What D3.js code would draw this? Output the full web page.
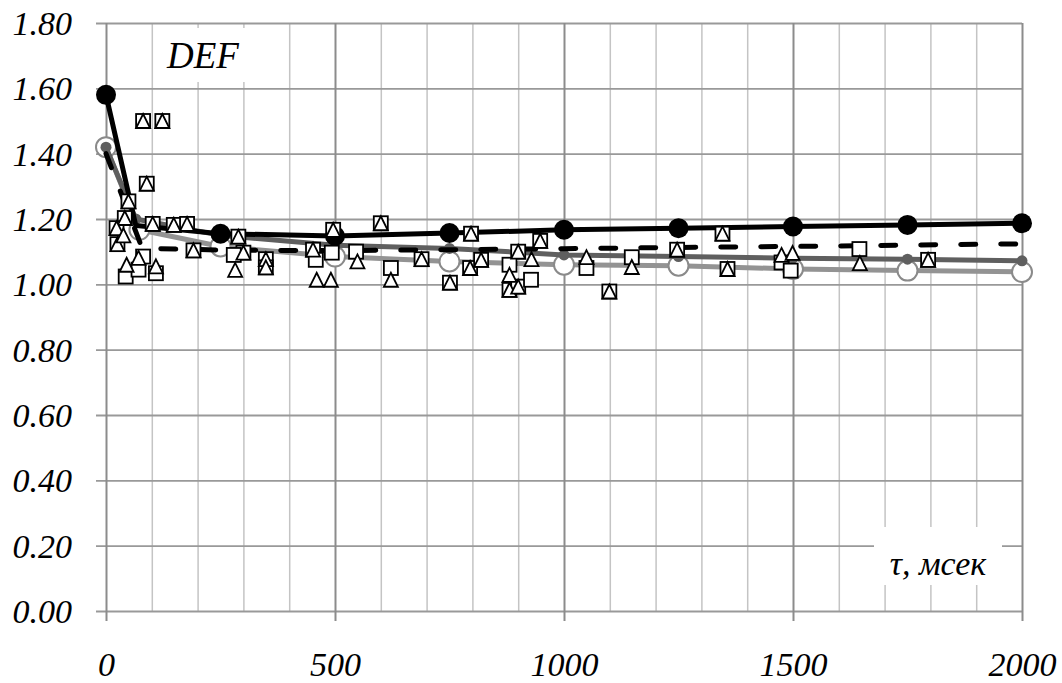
<!DOCTYPE html>
<html>
<head>
<meta charset="utf-8">
<script src="https://cdn.jsdelivr.net/npm/d3@7"></script>
</head>
<body style="margin:0; background:#fff">
<script>
// tick values
var xMajor = [0, 500, 1000, 1500, 2000];
var xMinor = d3.range(0, 2001, 100);
var yTicks = [0, 0.2, 0.4, 0.6, 0.8, 1.0, 1.2, 1.4, 1.6, 1.8];

// black line with filled circles
var tauBlack = [0, 65, 250, 500, 750, 1000, 1250, 1500, 1750, 2000];
var defBlack = [1.58, 1.18, 1.155, 1.148, 1.157, 1.167, 1.172, 1.177, 1.182, 1.187];

// dark grey line with small dots
var tauDark = [0, 65, 250, 500, 750, 1000, 1250, 1500, 1750, 2000];
var defDark = [1.42, 1.20, 1.15, 1.12, 1.11, 1.09, 1.085, 1.08, 1.077, 1.072];

// light grey line with open circles
var tauLight = [0, 73, 250, 500, 750, 1000, 1250, 1500, 1750, 2000];
var defLight = [1.42, 1.167, 1.116, 1.085, 1.07, 1.06, 1.057, 1.047, 1.042, 1.038];

// dashed black line
var tauDash = [0, 79, 250, 500, 750, 1000, 1250, 1500, 1750, 2000];
var defDash = [1.40, 1.11, 1.105, 1.103, 1.106, 1.109, 1.113, 1.116, 1.12, 1.124];

// measured points: squares
var sqTau = [81, 123, 89, 49, 41, 23, 25, 102, 148, 177, 191, 289, 300, 349, 349, 452, 496, 600, 689, 751,
             797, 795, 819, 881, 900, 900, 948, 1099, 1247, 1346, 1357, 1795,
             43, 71, 81, 109, 279, 458, 493, 546, 622, 881, 928, 1049, 1148, 1475, 1495, 1645];
var sqDef = [1.50, 1.50, 1.308, 1.254, 1.203, 1.172, 1.123, 1.185, 1.182, 1.185, 1.104, 1.146, 1.097, 1.077, 1.052, 1.106, 1.167, 1.187, 1.077, 1.005,
             1.155, 1.05, 1.075, 0.983, 1.10, 0.993, 1.133, 0.978, 1.106, 1.155, 1.047, 1.075,
             1.024, 1.045, 1.085, 1.034, 1.09, 1.075, 1.097, 1.10, 1.05, 1.06, 1.014, 1.05, 1.083, 1.067, 1.042, 1.108];

// measured points: triangles
var trTau = [81, 123, 89, 49, 41, 23, 25, 102, 148, 177, 191, 289, 300, 349, 349, 452, 496, 600, 689, 751,
             797, 795, 819, 881, 900, 900, 948, 1099, 1247, 1346, 1357, 1795,
             38, 45, 71, 109, 282, 460, 491, 549, 622, 881, 929, 1049, 1148, 1475, 1499, 1646];
var trDef = [1.50, 1.50, 1.308, 1.254, 1.203, 1.172, 1.123, 1.185, 1.182, 1.185, 1.104, 1.146, 1.097, 1.077, 1.052, 1.106, 1.167, 1.187, 1.077, 1.005,
             1.155, 1.05, 1.075, 0.983, 1.10, 0.993, 1.133, 0.978, 1.106, 1.155, 1.047, 1.075,
             1.15, 1.06, 1.081, 1.055, 1.044, 1.014, 1.014, 1.07, 1.014, 1.029, 1.077, 1.083, 1.053, 1.09, 1.096, 1.065];

var W = 1062, H = 683;
var plot = {left: 106, right: 1022, top: 23, bottom: 611};

var x = d3.scaleLinear().domain([0, 2000]).range([plot.left, plot.right]);
var y = d3.scaleLinear().domain([0, 1.8]).range([plot.bottom, plot.top]);

var svg = d3.select("body").append("svg")
    .attr("width", W)
    .attr("height", H);

// italic serif text, the way the original labels look
function serifText(sel, size) {
  sel.style("font-family", "'Liberation Serif'")
     .style("font-style", "italic")
     .style("font-size", size + "px")
     .attr("fill", "#000");
}

function plainAxis(g) {
  g.select(".domain").remove();
  g.attr("font-family", null).attr("font-size", null);
}

// minor vertical gridlines
svg.append("g")
    .attr("transform", "translate(0," + plot.top + ")")
    .call(d3.axisBottom(x).tickValues(xMinor.filter(function(d) { return d % 500 != 0; }))
        .tickSize(plot.bottom - plot.top).tickFormat(""))
    .call(plainAxis)
    .selectAll("line").attr("stroke", "#c4c4c4").attr("stroke-width", 1.5);

// horizontal gridlines + y labels
svg.append("g")
    .attr("transform", "translate(" + plot.right + ",0)")
    .call(d3.axisLeft(y).tickValues(yTicks)
        .tickSize(plot.right - plot.left + 10).tickPadding(24)
        .tickFormat(d3.format(".2f")))
    .call(plainAxis)
    .call(function(g) {
      g.selectAll("line").attr("stroke", "#999").attr("stroke-width", 1.8);
      g.selectAll("text").call(serifText, 34).attr("dy", "0.34em");
    });

// major vertical gridlines + x labels
svg.append("g")
    .attr("transform", "translate(0," + plot.top + ")")
    .call(d3.axisBottom(x).tickValues(xMajor)
        .tickSize(plot.bottom - plot.top + 10).tickPadding(31)
        .tickFormat(d3.format("d")))
    .call(plainAxis)
    .call(function(g) {
      g.selectAll("line").attr("stroke", "#8c8c8c").attr("stroke-width", 2);
      g.selectAll("text").call(serifText, 34);
    });

// label boxes
svg.append("rect").attr("x", 158).attr("y", 28).attr("width", 104).attr("height", 54).attr("fill", "#fff");
svg.append("text").attr("x", 167).attr("y", 68).call(serifText, 37).text("DEF");

svg.append("rect").attr("x", 874).attr("y", 527).attr("width", 128).attr("height", 58).attr("fill", "#fff");
svg.append("text").attr("x", 938).attr("y", 575).call(serifText, 34)
    .attr("text-anchor", "middle").text("τ, мсек");

function pts(t, v) { return t.map(function(d, i) { return [d, v[i]]; }); }

var line = d3.line()
    .x(function(d) { return x(d[0]); })
    .y(function(d) { return y(d[1]); });

// light grey series
var light = pts(tauLight, defLight);
svg.append("path").datum(light)
    .attr("fill", "none").attr("stroke", "#939393").attr("stroke-width", 5)
    .attr("d", line);
svg.selectAll(".lightdot").data(light).enter().append("circle")
    .attr("class", "lightdot")
    .attr("cx", function(d) { return x(d[0]); })
    .attr("cy", function(d) { return y(d[1]); })
    .attr("r", 10)
    .attr("fill", "#fff").attr("stroke", "#8a8a8a").attr("stroke-width", 2);

// dark grey series
var dark = pts(tauDark, defDark);
svg.append("path").datum(dark)
    .attr("fill", "none").attr("stroke", "#5f5f5f").attr("stroke-width", 5)
    .attr("d", line);
svg.selectAll(".darkdot").data(dark).enter().append("circle")
    .attr("class", "darkdot")
    .attr("cx", function(d) { return x(d[0]); })
    .attr("cy", function(d) { return y(d[1]); })
    .attr("r", 5.5)
    .attr("fill", "#5f5f5f");

// dashed series
svg.append("path").datum(pts(tauDash, defDash))
    .attr("fill", "none").attr("stroke", "#000").attr("stroke-width", 5)
    .attr("stroke-dasharray", "15,25").attr("stroke-linecap", "round")
    .attr("d", line);

// black series
var black = pts(tauBlack, defBlack);
svg.append("path").datum(black)
    .attr("fill", "none").attr("stroke", "#000").attr("stroke-width", 5)
    .attr("d", line);
svg.selectAll(".blackdot").data(black.filter(function(d) { return d[0] % 250 == 0; }))
    .enter().append("circle")
    .attr("class", "blackdot")
    .attr("cx", function(d) { return x(d[0]); })
    .attr("cy", function(d) { return y(d[1]); })
    .attr("r", 10)
    .attr("fill", "#000");

// scatter: squares then triangles
svg.selectAll(".sq").data(pts(sqTau, sqDef)).enter().append("rect")
    .attr("class", "sq")
    .attr("x", function(d) { return x(d[0]) - 7; })
    .attr("y", function(d) { return y(d[1]) - 7; })
    .attr("width", 14).attr("height", 14)
    .attr("fill", "#fff").attr("stroke", "#000").attr("stroke-width", 1.8);

svg.selectAll(".tr").data(pts(trTau, trDef)).enter().append("path")
    .attr("class", "tr")
    .attr("transform", function(d) { return "translate(" + x(d[0]) + "," + y(d[1]) + ")"; })
    .attr("d", "M0,-7L7,7L-7,7Z")
    .attr("fill", "#fff").attr("stroke", "#000").attr("stroke-width", 1.8)
    .attr("stroke-linejoin", "miter");
</script>
</body>
</html>
